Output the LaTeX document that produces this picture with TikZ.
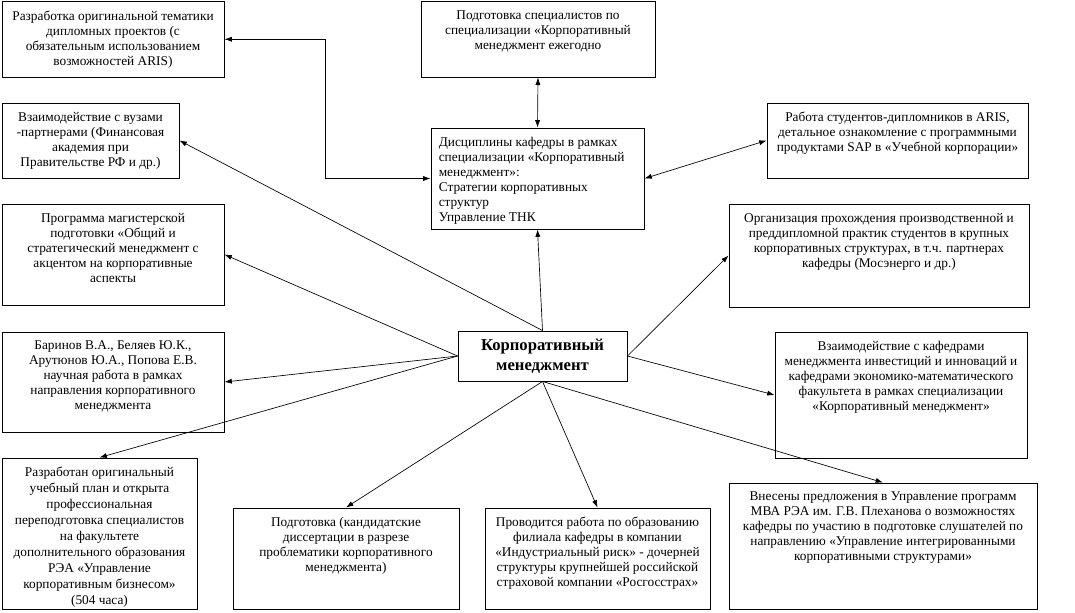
\documentclass[tikz,border=0pt]{standalone}
\usepackage{fontspec}
\setmainfont{Liberation Serif}
\usetikzlibrary{arrows.meta,fit}
\tikzset{
  boxst/.style={draw, line width=0.7pt, inner sep=0pt},
  txtst/.style={inner sep=0pt, font=\fontsize{10}{11.25}\selectfont},
  ctrst/.style={inner sep=0pt, font=\fontsize{12.5}{15}\selectfont\bfseries, align=center},
  arr/.style={-{Latex[length=5.5pt,width=3.8pt]}, line width=0.5pt},
  dbl/.style={{Latex[length=5.5pt,width=3.8pt]}-{Latex[length=5.5pt,width=3.8pt]}, line width=0.5pt}
}
\newcommand\mybox[7]{%
  \node[boxst, fit={(#2,#3) (#4,#5)}] (#1) {};
  \node[txtst, align=#6, anchor=north] (#1t) at ([yshift=-7pt]#1.north) {#7};
}
\begin{document}
\begin{tikzpicture}[x=0.75pt,y=-0.75pt]
\fill[white] (0,0) rectangle (1075,612);
\useasboundingbox (0,0) rectangle (1075,612);

\mybox{b1}{2}{1.5}{224}{77}{center}{Разработка оригинальной тематики\\ дипломных проектов (с\\ обязательным использованием\\ возможностей ARIS)}
\mybox{b2}{421}{1.5}{655}{77}{center}{Подготовка специалистов по\\ специализации «Корпоративный\\ менеджмент ежегодно}
\mybox{b3}{2}{103}{179}{178}{center}{Взаимодействие с вузами\\ -партнерами (Финансовая\\ академия при\\ Правительстве РФ и др.)}

\node[boxst, fit={(431,128) (644,229)}] (b4) {};
\node[txtst, align=left, anchor=north west] (b4t) at ([xshift=6pt,yshift=-7pt]b4.north west) {Дисциплины кафедры в рамках\\ специализации «Корпоративный\\ менеджмент»:\\ Стратегии корпоративных\\ структур\\ Управление ТНК};

\mybox{b5}{767}{103}{1028}{178}{center}{Работа студентов-дипломников в ARIS,\\ детальное ознакомление с программными\\ продуктами SAP в «Учебной корпорации»}
\mybox{b6}{2}{204}{224}{305}{center}{Программа магистерской\\ подготовки «Общий и\\ стратегический менеджмент с\\ акцентом на корпоративные\\ аспекты}
\mybox{b7}{729}{204}{1029}{307}{center}{Организация прохождения производственной и\\ преддипломной практик студентов в крупных\\ корпоративных структурах, в т.ч. партнерах\\ кафедры (Мосэнерго и др.)}
\mybox{b8}{2}{332}{224}{432}{center}{Баринов В.А., Беляев Ю.К.,\\ Арутюнов Ю.А., Попова Е.В.\\ научная работа в рамках\\ направления корпоративного\\ менеджмента}
\mybox{b9}{775}{332}{1027}{458}{center}{Взаимодействие с кафедрами\\ менеджмента инвестиций и инноваций и\\ кафедрами экономико-математического\\ факультета в рамках специализации\\ «Корпоративный менеджмент»}

\node[boxst, fit={(2,458) (197,609)}] (b10) {};
\node[txtst, font=\fontsize{10}{12}\selectfont, align=center, anchor=north] (b10t) at ([yshift=-7pt]b10.north) {Разработан оригинальный\\ учебный план и открыта\\ профессиональная\\ переподготовка специалистов\\ на факультете\\ дополнительного образования\\ РЭА «Управление\\ корпоративным бизнесом»\\ (504 часа)};

\mybox{b11}{233}{508}{459}{609}{center}{Подготовка (кандидатские\\ диссертации в разрезе\\ проблематики корпоративного\\ менеджмента)}
\mybox{b12}{485}{508}{710}{609}{center}{Проводится работа по образованию\\ филиала кафедры в компании\\ «Индустриальный риск» - дочерней\\ структуры крупнейшей российской\\ страховой компании «Росгосстрах»}
\mybox{b13}{729}{483}{1037}{609}{center}{Внесены предложения в Управление программ\\ МВА РЭА им. Г.В. Плеханова о возможностях\\ кафедры по участию в подготовке слушателей по\\ направлению «Управление интегрированными\\ корпоративными структурами»}

\node[boxst, fit={(458,331) (627,381)}] (c) {};
\node[ctrst] (ct) at (c.center) {Корпоративный\\ менеджмент};

% connectors
\coordinate (j1) at (325,178.5);
\draw[dbl] (b1.east) -| (j1) -- (b4.west);
\draw[dbl] (b2.south) -- (b4.north);
\draw[dbl] (b4.east) -- (b5.west);
\draw[arr] (c.north) -- (b4.south);
\draw[arr] (c.north) -- (b3.east);
\draw[arr] (c.west) -- (b6.east);
\draw[arr] (c.west) -- (b8.east);
\draw[arr] (c.west) -- (b10.north);
\draw[arr] (c.east) -- (b7.west);
\draw[arr] (c.east) -- (b9.west);
\draw[arr] (c.south) -- (b11.north);
\draw[arr] (c.south) -- (b12.north);
\draw[arr] (c.south) -- (b13.north);
\end{tikzpicture}
\end{document}
